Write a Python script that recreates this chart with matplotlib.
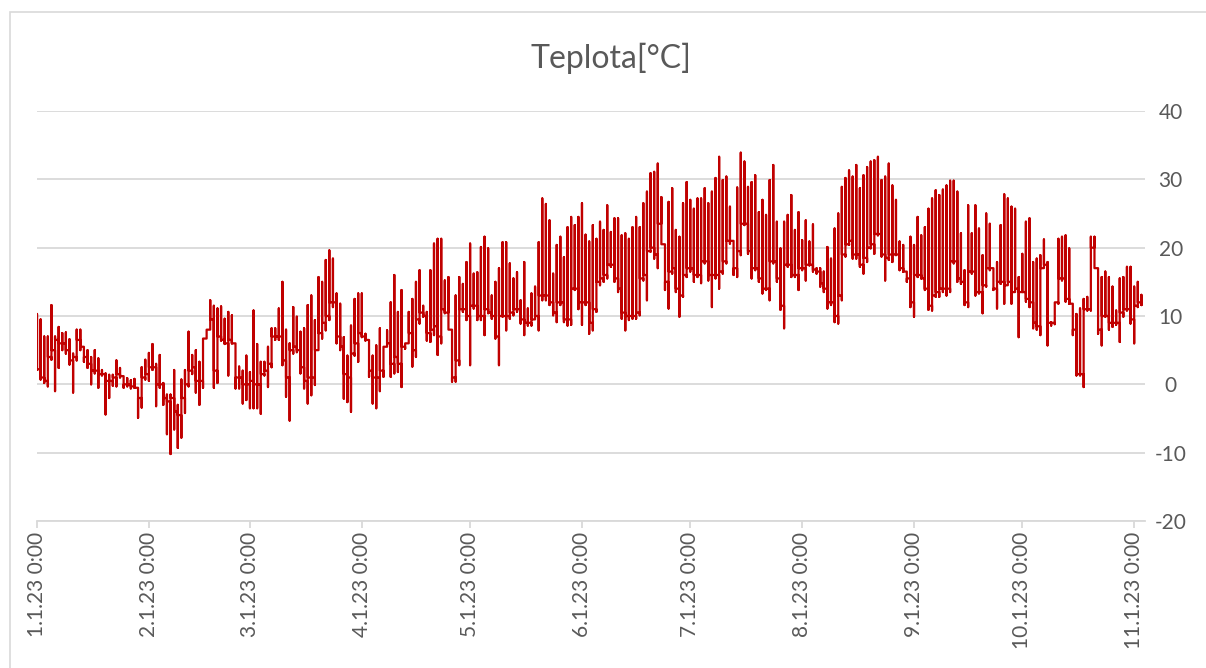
import matplotlib
matplotlib.use("Agg")
import matplotlib.pyplot as plt
import numpy as np
import pandas as pd
from matplotlib.patches import Rectangle

# Daily maximum temperature (Jan 1 .. Nov 3, 2023)
tmax = [
    10.3, 9.5, 7.0, 7.0, 11.6, 7.0, 8.4, 7.5, 7.6, 6.6, 4.5, 8.0, 8.0, 5.5, 5.0, 4.0, 5.0, 3.8, 2.1, 1.6, 1.4, 1.4, 3.5, 2.4, 1.0, 0.9, 0.6, 0.8, -0.6, 2.5, 3.6,
    4.6, 5.9, 3.0, 4.3, 0.2, -1.5, -1.5, 2.1, -3.0, 0.7, 2.1, 7.7, 4.3, 5.0, 3.3, 6.7, 8.0, 12.3, 11.5, 11.1, 11.4, 9.6, 10.6, 10.1, 6.0, 2.6, 2.0, 4.2,
    1.8, 10.8, 5.9, 3.3, 3.3, 5.5, 8.2, 8.2, 11.1, 15.0, 8.0, 6.0, 11.3, 9.9, 7.7, 8.2, 11.6, 13.0, 9.4, 15.7, 15.0, 18.2, 19.6, 18.4, 13.3, 11.8, 6.9, 4.2, 8.6, 12.5, 13.3,
    13.3, 7.4, 4.5, 4.2, 5.7, 8.2, 5.5, 7.9, 12.0, 16.0, 10.6, 13.8, 6.0, 10.6, 12.5, 15.0, 16.7, 11.5, 10.6, 16.7, 20.6, 21.3, 21.3, 15.2, 15.7, 6.2, 13.0, 15.7, 14.7, 17.9,
    20.6, 16.2, 16.4, 20.1, 21.6, 19.9, 13.0, 15.0, 17.0, 20.8, 20.8, 17.7, 15.5, 16.4, 12.3, 17.9, 11.1, 13.3, 14.3, 20.8, 27.2, 26.4, 24.0, 16.2, 20.4, 21.6, 18.6, 23.0, 24.5, 23.3, 24.5,
    26.5, 21.9, 20.9, 23.3, 21.3, 23.8, 22.6, 26.2, 22.3, 24.3, 24.3, 21.8, 22.1, 21.3, 23.0, 24.5, 23.0, 26.5, 28.2, 30.9, 31.1, 32.3, 27.4, 20.1, 26.7, 28.7, 22.6, 21.6, 26.5, 29.6,
    27.0, 25.7, 27.2, 27.2, 28.7, 26.5, 28.2, 30.2, 33.3, 29.9, 30.4, 26.0, 20.4, 28.8, 33.9, 32.6, 28.9, 29.6, 30.6, 25.2, 27.0, 24.8, 29.9, 32.1, 23.8, 19.9, 23.8, 24.8, 27.7, 22.6, 25.2,
    21.1, 24.0, 20.9, 23.4, 17.0, 17.0, 16.5, 20.1, 18.4, 22.8, 25.0, 28.9, 30.2, 31.3, 30.4, 32.1, 28.7, 30.6, 31.8, 32.6, 32.8, 33.3, 29.9, 30.4, 32.3, 29.1, 27.0, 20.9, 20.4, 16.5, 21.6,
    20.4, 24.5, 21.8, 23.0, 25.7, 27.2, 28.4, 27.7, 28.5, 29.1, 29.8, 29.8, 28.2, 22.1, 16.7, 26.2, 22.1, 26.2, 22.8, 18.9, 25.0, 23.5, 16.7, 17.9, 23.3, 27.8, 27.2, 26.0, 25.7, 15.7,
    19.1, 23.8, 24.3, 17.9, 18.4, 18.9, 21.2, 17.9, 9.1, 9.5, 21.3, 21.6, 21.8, 19.9, 11.8, 10.3, 11.1, 12.5, 12.8, 21.6, 21.6, 15.5, 15.7, 16.5, 15.7, 14.3, 10.8, 15.5, 15.7, 17.2, 17.2,
    14.3, 15.0, 13.1,
]

# Daily minimum temperature
tmin = [
    2.1, 0.7, 0.2, -0.3, 3.6, -1.0, 2.4, 5.0, 4.5, 2.9, -1.2, 3.5, 5.0, 3.3, 2.4, 0.0, 1.6, -0.5, 1.3, -4.4, -2.0, -0.2, -0.3, 1.0, -0.5, -0.3, -0.6, -0.5, -4.9, -3.4, 0.7,
    0.5, 2.1, -3.2, -0.5, -3.0, -7.3, -10.2, -6.6, -9.3, -7.8, -4.2, -0.3, 1.5, -1.2, -3.0, -0.5, 6.7, 8.0, -0.5, 0.2, 6.4, 5.9, 1.3, 6.0, -0.6, -0.6, -2.8, -2.3,
    -3.5, -3.5, -3.5, -4.3, 1.3, -0.4, 2.5, 6.5, 6.5, 2.8, -1.8, -5.3, 4.5, 4.7, 1.6, -0.6, -2.8, -1.6, -0.1, 5.0, 6.7, 7.9, 9.4, 11.3, 6.0, 5.0, -2.1, -2.6, -4.0, 4.2, 3.3,
    6.9, 6.4, 1.1, -2.8, -3.5, -1.0, 1.1, 5.5, 1.1, 1.6, 1.8, -0.4, 5.2, 6.9, 2.6, 4.0, 8.9, 9.9, 6.4, 6.2, 7.2, 4.3, 6.0, 10.4, 10.2, 0.4, 0.4, 2.8, 10.6, 9.4,
    2.8, 11.1, 9.4, 9.4, 7.2, 10.4, 9.6, 6.7, 2.8, 9.9, 7.9, 9.6, 10.1, 10.6, 8.9, 7.2, 8.6, 8.6, 9.6, 7.9, 12.3, 12.3, 11.6, 10.1, 9.1, 11.6, 9.1, 8.6, 8.7, 13.8, 11.0,
    8.7, 11.6, 7.4, 7.9, 10.6, 14.5, 15.0, 15.5, 17.2, 15.0, 13.5, 9.6, 7.9, 9.4, 9.6, 9.6, 10.1, 15.2, 12.3, 19.4, 18.4, 17.0, 23.5, 13.8, 11.1, 16.2, 13.5, 9.9, 12.8, 15.7,
    16.5, 15.0, 15.7, 14.8, 17.7, 15.2, 11.3, 15.5, 14.0, 16.2, 17.7, 20.6, 16.0, 15.7, 18.9, 23.3, 19.1, 15.5, 16.7, 15.0, 13.3, 13.8, 12.3, 17.7, 15.0, 10.9, 8.2, 17.2, 15.7, 15.7, 13.8,
    16.7, 15.2, 17.4, 16.5, 16.2, 14.3, 13.5, 11.1, 11.6, 9.1, 8.9, 12.3, 18.7, 20.4, 18.4, 18.4, 17.2, 16.2, 17.9, 19.9, 19.1, 21.8, 18.7, 15.2, 18.2, 17.9, 18.9, 16.7, 16.5, 15.0, 11.3,
    9.9, 15.7, 15.5, 13.8, 10.9, 10.8, 12.8, 12.8, 13.5, 13.0, 13.5, 17.7, 15.0, 14.7, 11.6, 11.3, 16.2, 13.0, 13.3, 10.4, 14.3, 16.7, 13.8, 11.1, 14.7, 11.8, 14.5, 11.8, 13.5, 6.9,
    13.5, 12.1, 11.3, 8.2, 8.0, 7.2, 17.0, 5.7, 8.6, 8.8, 11.8, 15.2, 12.1, 11.8, 7.2, 1.3, 1.3, -0.4, 10.8, 10.8, 19.9, 7.4, 5.7, 9.9, 8.0, 8.4, 8.7, 6.2, 9.9, 10.8, 8.9,
    6.0, 11.3, 11.6,
]

# Temperature around midnight at the end of each day
tnight = [
    2.2, 1.0, 0.5, 4.0, 5.0, 6.5, 6.0, 6.0, 5.0, 3.5, 4.0, 6.5, 5.5, 4.0, 3.0, 2.0, 2.0, 1.5, 1.5, 0.5, 0.5, 1.0, 1.5, 1.2, 0.0, 0.0, -0.3, -0.5, -2.0, 1.0, 1.5,
    2.5, 2.5, 0.0, 0.0, -2.0, -2.5, -2.0, -4.0, -4.5, -2.0, 0.0, 2.0, 2.5, 0.5, 0.5, 6.7, 8.0, 9.5, 2.0, 7.0, 6.5, 6.0, 6.5, 6.0, 1.0, 1.0, 0.0, 0.0,
    0.5, 0.0, 0.0, 1.5, 2.0, 3.0, 7.0, 7.0, 7.0, 3.5, 1.0, 5.0, 5.5, 5.0, 2.5, 0.5, 1.0, 1.0, 5.0, 7.5, 9.0, 10.0, 12.0, 12.0, 7.0, 5.5, 1.5, 1.0, 4.5, 6.0, 7.5,
    7.0, 6.5, 2.0, 1.0, 1.0, 2.0, 5.5, 6.0, 3.0, 4.0, 3.0, 5.5, 6.0, 7.5, 5.0, 9.5, 10.5, 10.0, 7.5, 8.0, 8.5, 7.0, 11.0, 10.5, 8.0, 1.0, 3.5, 11.0, 11.0, 10.0,
    11.5, 11.5, 10.0, 10.0, 11.0, 10.5, 10.0, 7.0, 10.0, 10.0, 10.0, 10.5, 11.0, 11.0, 9.5, 9.0, 9.0, 9.5, 10.0, 13.0, 13.0, 13.0, 12.0, 10.5, 12.0, 12.0, 9.5, 9.5, 14.0, 14.0, 12.0,
    12.0, 12.0, 9.0, 11.0, 15.0, 15.5, 16.0, 17.5, 17.5, 15.5, 14.0, 10.5, 10.0, 10.0, 10.0, 10.5, 15.5, 16.0, 19.5, 20.0, 19.0, 23.5, 20.5, 15.0, 16.5, 17.0, 14.0, 13.0, 16.0, 17.0,
    17.0, 16.0, 16.0, 18.0, 18.0, 16.0, 16.0, 16.0, 16.5, 18.0, 21.0, 21.0, 17.0, 19.5, 23.5, 23.5, 19.5, 17.0, 17.0, 15.5, 14.0, 14.0, 18.0, 18.0, 15.5, 11.5, 17.5, 17.5, 16.0, 16.0, 17.0,
    17.0, 17.5, 17.5, 16.8, 16.5, 14.8, 14.0, 12.0, 12.0, 10.0, 13.0, 19.0, 20.5, 21.0, 19.0, 19.0, 17.5, 18.5, 20.0, 20.5, 22.0, 22.0, 19.0, 18.5, 19.0, 19.0, 19.0, 17.0, 16.5, 15.5, 12.0,
    16.0, 16.0, 15.5, 14.0, 11.5, 13.0, 13.5, 14.0, 14.0, 14.0, 18.0, 18.0, 15.5, 15.0, 12.0, 16.5, 16.5, 13.5, 13.5, 14.5, 17.0, 17.0, 14.0, 15.0, 15.0, 14.5, 15.0, 13.5, 14.0, 13.5,
    13.5, 12.5, 12.0, 9.0, 8.5, 17.0, 17.5, 9.0, 9.0, 12.0, 15.5, 15.5, 12.5, 11.8, 8.0, 1.5, 1.5, 11.0, 11.0, 20.0, 17.0, 8.0, 10.0, 10.0, 9.0, 9.0, 9.0, 10.5, 11.0, 11.0, 9.5,
    11.5, 12.0, 11.6,
]

tick_labels = ["1.1.23 0:00", "2.1.23 0:00", "3.1.23 0:00", "4.1.23 0:00", "5.1.23 0:00",
               "6.1.23 0:00", "7.1.23 0:00", "8.1.23 0:00", "9.1.23 0:00", "10.1.23 0:00",
               "11.1.23 0:00"]
y_ticks = [-20, -10, 0, 10, 20, 30, 40]
title = "Teplota[°C]"

n = len(tmax)
dates = pd.date_range("2023-01-01", periods=n, freq="D")
tick_days = [(pd.Timestamp(2023, m, 1) - dates[0]).days for m in range(1, 12)]

# Build the date-axis line: all readings of one day share the same x
xs, ys = [], []
prev = tmin[0]
for d in range(n):
    xs += [d, d, d, d]
    ys += [prev, tmin[d], tmax[d], tnight[d]]
    prev = tnight[d]

FONT = ["Lato", "DejaVu Sans"]
plt.rcParams["font.family"] = FONT
plt.rcParams["axes.unicode_minus"] = False
GRAY_TXT = "#595959"
GRID = "#d9d9d9"

fig = plt.figure(figsize=(12.06, 6.68), dpi=100)
fig.patches.append(Rectangle((10 / 1206, -0.1), 1.2, 1.1 - 12 / 668,
                             transform=fig.transFigure, fill=False,
                             edgecolor=GRID, linewidth=1.2))
ax = fig.add_axes([37 / 1206, 1 - 521 / 668, 1108 / 1206, 410 / 668])

ax.plot(xs, ys, color="#C00000", linewidth=1.6, solid_joinstyle="round",
        solid_capstyle="round", zorder=3)

ax.set_xlim(0, 307)
ax.set_ylim(-20, 40)
ax.set_yticks(y_ticks)
ax.yaxis.grid(True, color=GRID, linewidth=1.3)
ax.set_axisbelow(True)
for s in ["top", "left", "right"]:
    ax.spines[s].set_visible(False)
ax.spines["bottom"].set_color(GRID)
ax.spines["bottom"].set_linewidth(1.3)

ax.tick_params(axis="y", left=False, right=False, labelleft=False, labelright=True,
               labelsize=15, labelcolor=GRAY_TXT, pad=15)
for t in ax.yaxis.get_major_ticks():
    t.label2.set_horizontalalignment("center")

ax.set_xticks(tick_days)
ax.set_xticklabels(tick_labels, rotation=90)
ax.tick_params(axis="x", direction="out", length=5, width=1.3, color=GRID,
               labelsize=15, labelcolor=GRAY_TXT, pad=3)

fig.text(611 / 1206, 1 - 58 / 668, title, ha="center", va="center",
         fontsize=23, color=GRAY_TXT)

fig.savefig("out.png", dpi=100)
